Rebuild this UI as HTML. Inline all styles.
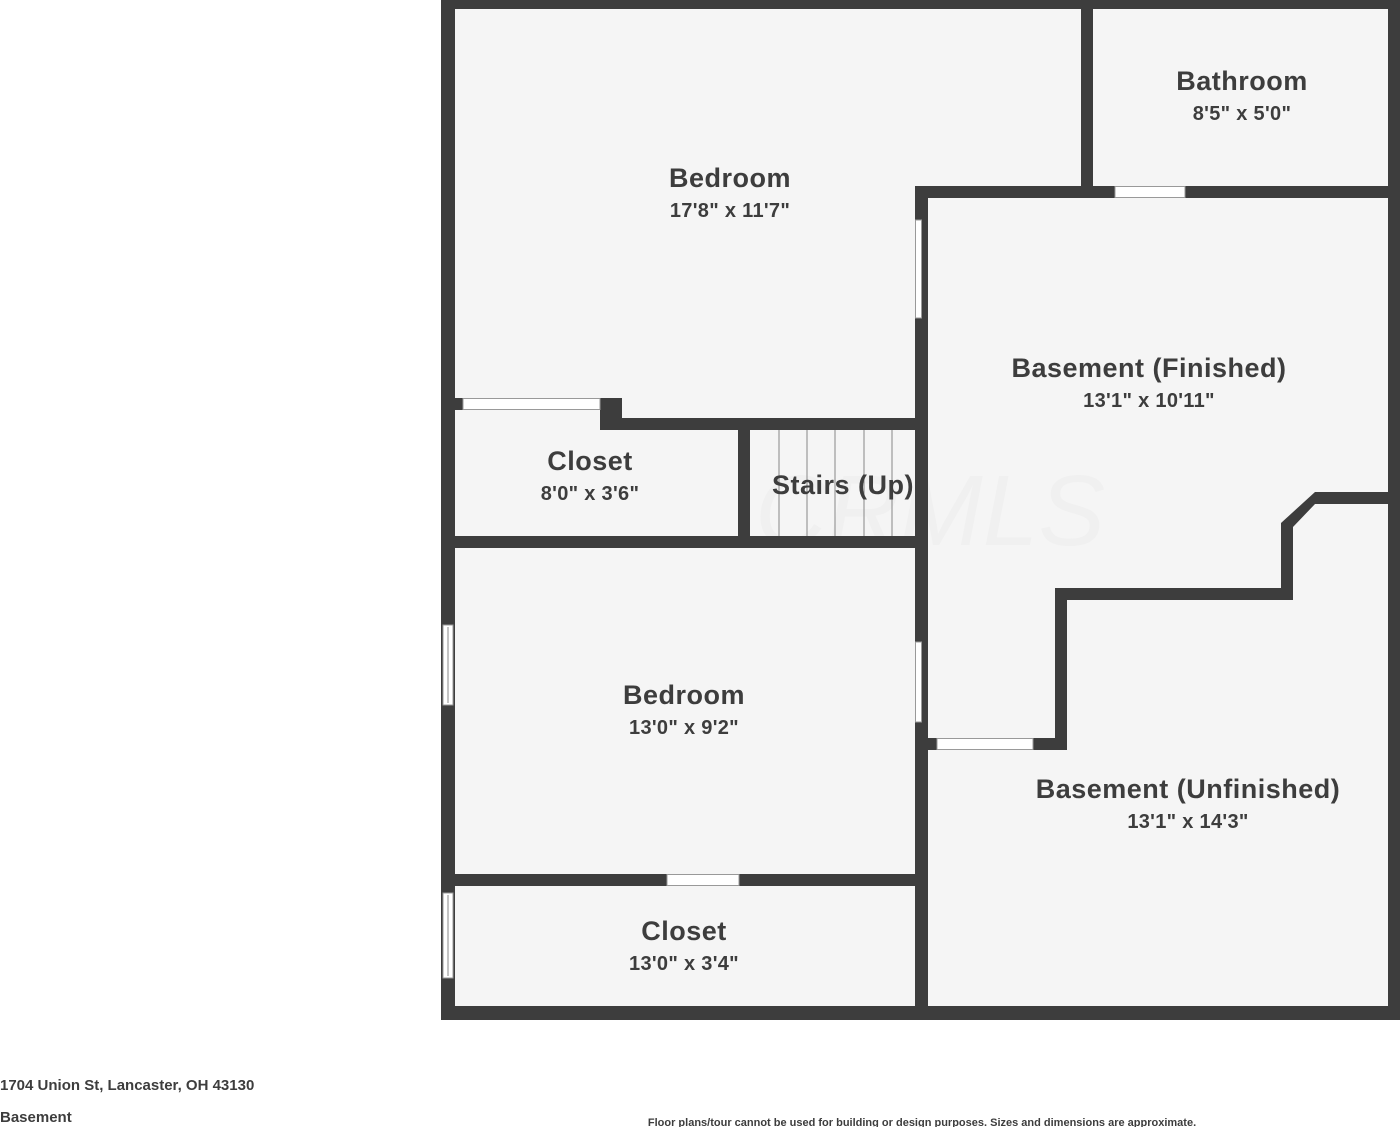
<!DOCTYPE html>
<html><head><meta charset="utf-8"><style>
html,body{margin:0;padding:0;background:#fff;width:1400px;height:1127px;overflow:hidden}
svg{display:block}
text{font-family:"Liberation Sans",sans-serif;fill:#3d3d3d;text-anchor:middle;font-weight:bold}
.t{font-size:27px;letter-spacing:0.5px}.d{font-size:20px;letter-spacing:0.3px}
</style></head><body>
<svg width="1400" height="1127" viewBox="0 0 1400 1127">
<rect x="441" y="0" width="959" height="1020" fill="#f5f5f5"/>
<text x="930" y="545" style="font-size:100px;font-weight:normal;font-style:italic;fill:#f0f0f0">CRMLS</text>
<g fill="#3d3d3d">
<rect x="441" y="0" width="959" height="9"/>
<rect x="441" y="0" width="14" height="1020"/>
<rect x="441" y="1006" width="959" height="14"/>
<rect x="1388" y="0" width="12" height="1020"/>
<rect x="1081" y="0" width="12" height="198"/>
<rect x="915" y="186" width="485" height="12"/>
<rect x="915" y="186" width="13" height="834"/>
<rect x="600" y="398" width="22" height="32"/>
<rect x="600" y="418" width="328" height="12"/>
<rect x="441" y="398" width="22" height="12"/>
<rect x="738" y="418" width="12" height="130"/>
<rect x="441" y="536" width="487" height="12"/>
<rect x="441" y="874" width="487" height="12"/>
<rect x="928" y="738" width="139" height="12"/>
<rect x="1055" y="588" width="12" height="162"/>
<rect x="1055" y="588" width="238" height="12"/>
<rect x="1281" y="523" width="12" height="77"/>
<rect x="1315" y="492" width="85" height="12"/>
</g>
<polygon points="1281,523 1315,492 1315,504 1293,527 1293,530 1281,530" fill="#3d3d3d"/>
<g fill="#fff" stroke="#999" stroke-width="1">
<rect x="463" y="398.5" width="137" height="11"/>
<rect x="1115" y="186.5" width="70" height="11"/>
<rect x="915.5" y="220" width="6" height="98"/>
<rect x="915.5" y="642" width="6" height="80"/>
<rect x="937" y="738.5" width="96" height="11"/>
<rect x="667" y="874.5" width="72" height="11"/>
<rect x="443" y="625" width="10" height="80"/>
<rect x="443" y="893" width="10" height="85"/>
</g>
<g stroke="#888" stroke-width="1">
<line x1="448" y1="627" x2="448" y2="703"/><line x1="448" y1="895" x2="448" y2="976"/>
<line x1="779" y1="430" x2="779" y2="536"/><line x1="807" y1="430" x2="807" y2="536"/>
<line x1="835" y1="430" x2="835" y2="536"/><line x1="864" y1="430" x2="864" y2="536"/>
<line x1="892" y1="430" x2="892" y2="536"/>
</g>
<line x1="920" y1="430" x2="920" y2="536" stroke="#3d3d3d" stroke-width="2"/>
<text class="t" x="730" y="187">Bedroom</text><text class="d" x="730" y="217">17'8" x 11'7"</text>
<text class="t" x="1242" y="90">Bathroom</text><text class="d" x="1242" y="120">8'5" x 5'0"</text>
<text class="t" x="1149" y="377">Basement (Finished)</text><text class="d" x="1149" y="407">13'1" x 10'11"</text>
<text class="t" x="590" y="470">Closet</text><text class="d" x="590" y="500">8'0" x 3'6"</text>
<text class="t" x="843" y="494">Stairs (Up)</text>
<text class="t" x="684" y="704">Bedroom</text><text class="d" x="684" y="734">13'0" x 9'2"</text>
<text class="t" x="1188" y="798">Basement (Unfinished)</text><text class="d" x="1188" y="828">13'1" x 14'3"</text>
<text class="t" x="684" y="940">Closet</text><text class="d" x="684" y="970">13'0" x 3'4"</text>
<text x="0" y="1090" style="text-anchor:start;font-size:15px">1704 Union St, Lancaster, OH 43130</text>
<text x="0" y="1122" style="text-anchor:start;font-size:15px">Basement</text>
<text x="922" y="1126" style="font-size:11px">Floor plans/tour cannot be used for building or design purposes. Sizes and dimensions are approximate.</text>
</svg>
</body></html>
